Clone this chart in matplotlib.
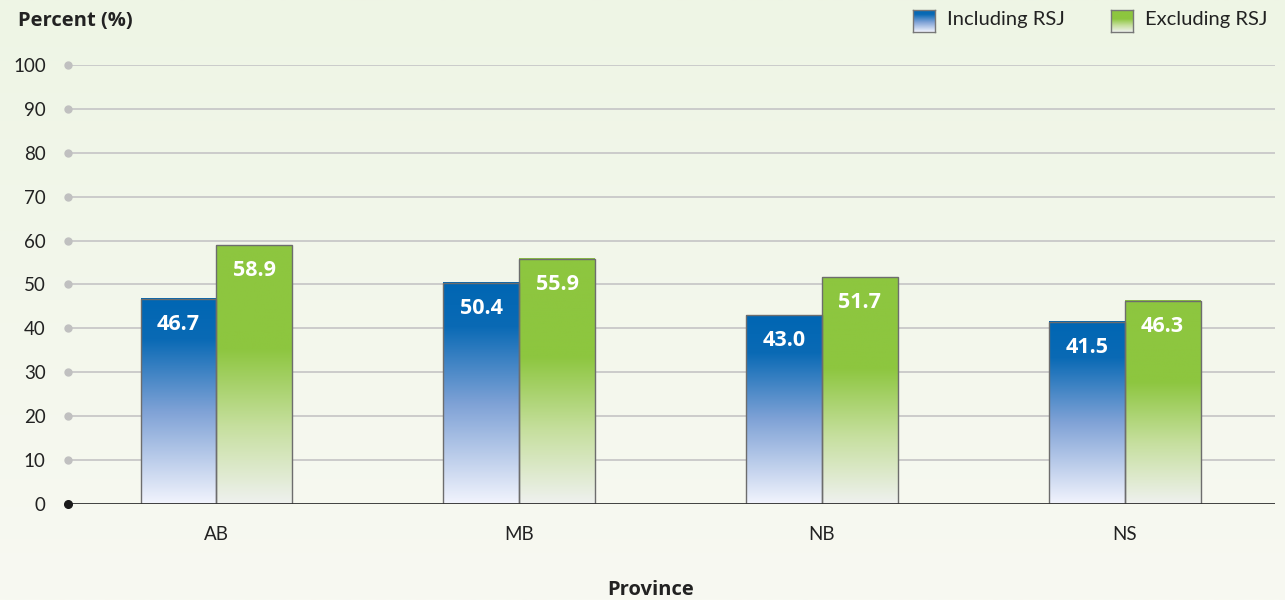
import numpy as np
import matplotlib.pyplot as plt
from matplotlib.colors import LinearSegmentedColormap

plt.rcParams['font.family'] = ['Lato', 'DejaVu Sans']
BOLD = ['Open Sans', 'DejaVu Sans']

# data
provinces = ["AB", "MB", "NB", "NS"]
including_rsj = [46.7, 50.4, 43.0, 41.5]
excluding_rsj = [58.9, 55.9, 51.7, 46.3]
series_names = ["Including RSJ", "Excluding RSJ"]
yticks = [0, 10, 20, 30, 40, 50, 60, 70, 80, 90, 100]

blue_cmap = LinearSegmentedColormap.from_list(
    "blue", [(0.0, "#f2f4fd"), (0.45, "#7fa2d6"), (0.8, "#0a6ab5"), (1.0, "#0066b3")])
green_cmap = LinearSegmentedColormap.from_list(
    "green", [(0.0, "#eff1ef"), (0.3, "#c6df9e"), (0.6, "#8dc63f"), (1.0, "#8dc63f")])

fig = plt.figure(figsize=(12.85, 6), dpi=100)

# background gradient
bg = fig.add_axes([0, 0, 1, 1], zorder=-10)
grad = np.linspace(0, 1, 256).reshape(-1, 1)
bg_cmap = LinearSegmentedColormap.from_list("bg", ["#eef5e5", "#f8f9f2"])
bg.imshow(grad, aspect="auto", cmap=bg_cmap, extent=[0, 1, 0, 1], origin="upper")
bg.axis("off")

ax = fig.add_axes([0.0529, 0.16, 0.9391, 0.7317])
ax.set_facecolor("none")

width = 0.25
x = np.arange(len(provinces))
grad_v = np.linspace(0, 1, 256).reshape(-1, 1)


def gradient_bar(xc, h, cmap):
    left, right = xc - width / 2, xc + width / 2
    ax.imshow(grad_v, aspect="auto", cmap=cmap, origin="lower",
              extent=[left, right, 0, h], zorder=2)
    ax.add_patch(plt.Rectangle((left, 0), width, h, fill=False,
                               edgecolor="#6d6d6d", linewidth=1.0, zorder=3))
    ax.text(xc, h - 5.8, f"{h:.1f}", ha="center", va="center", color="white",
            fontsize=15.5, fontweight="bold", family=BOLD, zorder=4)


for i in range(len(provinces)):
    gradient_bar(x[i] - width / 2, including_rsj[i], blue_cmap)
    gradient_bar(x[i] + width / 2, excluding_rsj[i], green_cmap)

ax.set_xlim(-0.49, 3.495)
ax.set_ylim(0, 100)
ax.set_aspect("auto")

# grid lines with dots
for t in yticks[1:]:
    ax.axhline(t, color="#cbcbcb", linewidth=1.4, zorder=1)
ax.plot([-0.49] * (len(yticks) - 1), yticks[1:], "o", color="#c0c0c0",
        markersize=5, clip_on=False, zorder=5)
ax.axhline(0, color="#333333", linewidth=1.3, zorder=5)
ax.plot([-0.49], [0], "o", color="#1a1a1a", markersize=5.5, clip_on=False, zorder=6)

for s in ax.spines.values():
    s.set_visible(False)
ax.set_yticks(yticks)
ax.set_yticklabels([str(t) for t in yticks], fontsize=13.5, color="#222222")
ax.set_xticks(x)
ax.set_xticklabels(provinces, fontsize=13.5, color="#222222")
ax.tick_params(axis="both", length=0)
ax.tick_params(axis="y", pad=16)
ax.tick_params(axis="x", pad=16)

fig.text(0.014, 0.965, "Percent (%)", fontsize=14.5, fontweight="bold", family=BOLD,
         color="#222222", ha="left", va="center")
fig.text(0.506, 0.016, "Province", fontsize=14.5, fontweight="bold", family=BOLD,
         color="#222222", ha="center", va="center")

# legend with gradient swatches
for name, cmap, sx in [(series_names[0], blue_cmap, 913), (series_names[1], green_cmap, 1111)]:
    sw = fig.add_axes([sx / 1285, 1 - 32 / 600, 22 / 1285, 22 / 600])
    sw.imshow(grad_v, aspect="auto", cmap=cmap, origin="lower", extent=[0, 1, 0, 1])
    sw.set_xticks([])
    sw.set_yticks([])
    for s in sw.spines.values():
        s.set_edgecolor("#777777")
        s.set_linewidth(1.0)
    fig.text((sx + 34) / 1285, 1 - 20 / 600, name, fontsize=14.5, color="#222222",
             ha="left", va="center")

fig.savefig("out.png", dpi=100)
